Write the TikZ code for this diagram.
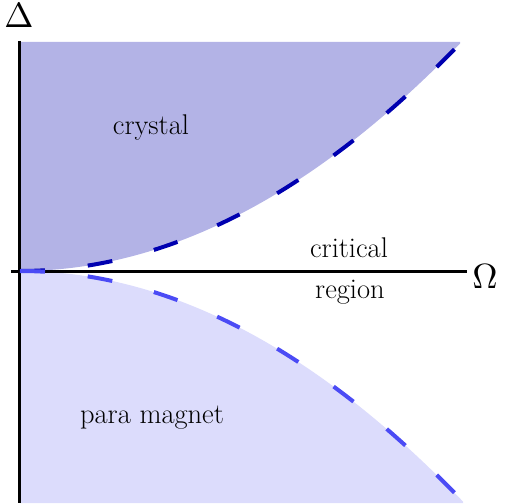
\documentclass[tikz,border=0pt]{standalone}
\usetikzlibrary{positioning}
\definecolor{crystalfill}{HTML}{B3B3E6}
\definecolor{parafill}{HTML}{DCDCFC}
\definecolor{crystalline}{HTML}{0000B0}
\definecolor{paraline}{HTML}{4B4BF5}
\newcommand{\axsym}[1]{\scalebox{3.5}{$#1$}}

\begin{document}
\begin{tikzpicture}[
    x=1pt, y=1pt,
    axis/.style={line width=3pt},
    border/.style={line width=4pt, dash pattern=on 25pt off 43pt},
    region/.style={font=\fontsize{28.5}{32}\selectfont, anchor=base, inner sep=0pt},
    axlabel/.style={anchor=base, inner sep=0pt}
]
    \useasboundingbox (-20,-232) rectangle (488,271);
    \coordinate (o) at (0,0);
    \coordinate (ytop) at (0,230);
    \coordinate (ybot) at (0,-232);
    \coordinate (xleft) at (-9,0);
    \coordinate (xright) at (447,0);

    % phases
    \fill[crystalfill] (o) -- (0,229) -- (440,229)
        -- plot[domain=440:0, samples=80] (\x,{0.00118*\x*\x}) -- cycle;
    \fill[parafill] (o) -- plot[domain=0:443, samples=80] (\x,{-0.00118*\x*\x})
        -- (443,-232) -- (ybot) -- cycle;

    % axes
    \draw[axis] (ytop) -- (ybot);
    \draw[axis] (xleft) -- (xright);

    % phase borders
    \draw[border, crystalline] plot[domain=0:440, samples=80] (\x,{0.00118*\x*\x});
    \draw[border, paraline] plot[domain=0:437, samples=80] (\x,{-0.00118*\x*\x});

    \node[axlabel] (delta) at (-1,243) {\axsym{\Delta}};
    \node[axlabel] (omega) at (465,-17) {\axsym{\Omega}};
    \node[region] (crystal) at (131,136) {crystal};
    \node[region] (para) at (132,-152) {para magnet};
    \node[region] (critical) at (329,13) {critical};
    \node[region] (crit2) at (330,-27) {region};
\end{tikzpicture}
\end{document}
